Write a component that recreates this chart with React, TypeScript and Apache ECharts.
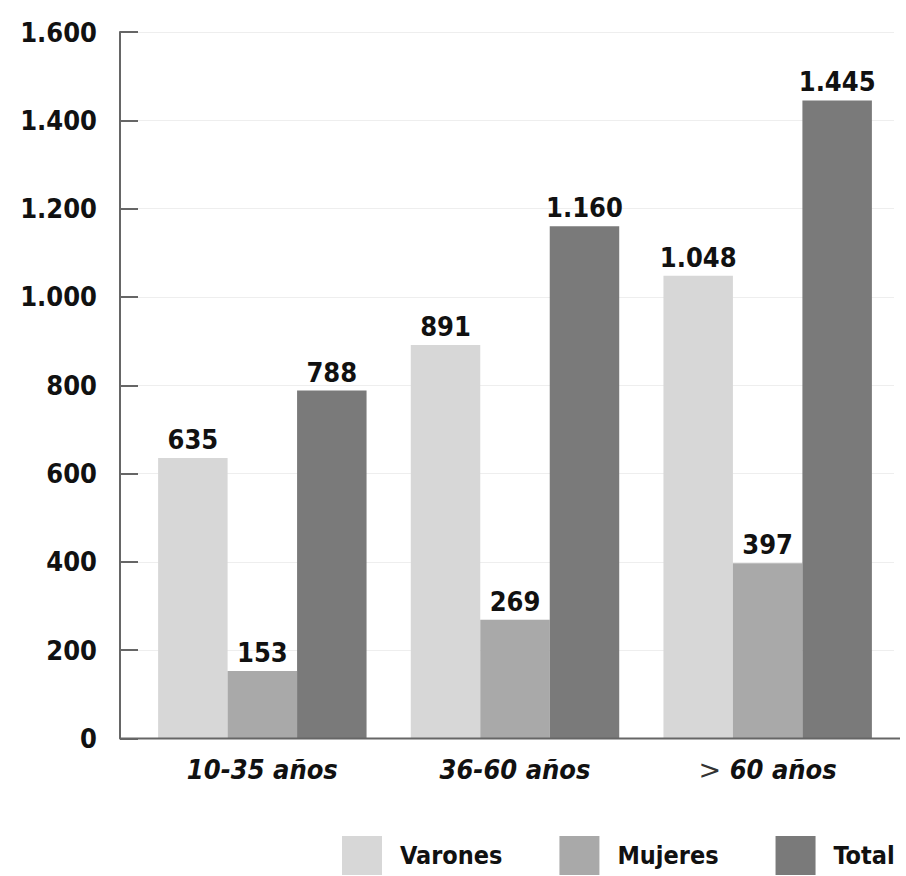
import React, { useEffect, useRef } from "react";
import * as echarts from "echarts";

const categories = ["10-35 años", "36-60 años", "> 60 años"];
const seriesNames = ["Varones", "Mujeres", "Total"];
const varones = [635, 891, 1048];
const mujeres = [153, 269, 397];
const total = [788, 1160, 1445];
const yTicks = [0, 200, 400, 600, 800, 1000, 1200, 1400, 1600];

const colors = ["#d7d7d7", "#a9a9a9", "#7a7a7a"];
const NUM_FONT = "'DejaVu Sans Condensed', 'DejaVu Sans', sans-serif";

const fmt = (v: number) => String(v).replace(/\B(?=(\d{3})+(?!\d))/g, ".");

export default function App() {
  const ref = useRef<HTMLDivElement>(null);
  useEffect(() => {
    if (!ref.current) return;
    const chart = echarts.init(ref.current, undefined, { renderer: "svg" });
    const values = [varones, mujeres, total];
    const labelStyle = {
      show: true,
      position: "top" as const,
      distance: 5,
      color: "#111",
      fontFamily: NUM_FONT,
      fontWeight: "bold" as const,
      fontSize: 27,
      formatter: (p: any) => fmt(p.value),
    };
    chart.setOption({
      animation: false,
      backgroundColor: "#fff",
      grid: { left: 136, right: 12, top: 32, bottom: 137.5, containLabel: false },
      legend: {
        left: 342,
        top: 836,
        width: 564,
        padding: 0,
        itemWidth: 40,
        itemHeight: 39,
        itemGap: 57,
        icon: "rect",
        data: seriesNames,
        textStyle: {
          fontFamily: NUM_FONT,
          fontWeight: "bold",
          fontSize: 25,
          color: "#111",
          padding: [0, 0, 0, 13],
        },
      },
      xAxis: {
        type: "category",
        data: categories,
        axisLine: { show: false },
        axisTick: { show: false },
        axisLabel: {
          interval: 0,
          margin: 17,
          color: "#111",
          fontFamily: NUM_FONT,
          fontWeight: "bold",
          fontStyle: "italic",
          fontSize: 27,
          formatter: (v: string) =>
            v.startsWith(">") ? "{g|>} {b|" + v.slice(1).trim() + "}" : "{b|" + v + "}",
          rich: {
            g: { fontFamily: "'DejaVu Sans', sans-serif", fontWeight: "normal", fontStyle: "normal", fontSize: 27, color: "#333" },
            b: { fontFamily: NUM_FONT, fontWeight: "bold", fontStyle: "italic", fontSize: 27, color: "#111" },
          },
        },
      },
      yAxis: {
        type: "value",
        min: yTicks[0],
        max: yTicks[yTicks.length - 1],
        interval: 200,
        offset: 16,
        axisLine: { show: true, lineStyle: { color: "#666", width: 2 } },
        axisTick: { show: true, inside: true, length: 18, lineStyle: { color: "#666", width: 2 } },
        splitLine: { show: true, lineStyle: { color: "#eeeeee", width: 1 } },
        axisLabel: {
          margin: 23,
          color: "#111",
          fontFamily: NUM_FONT,
          fontWeight: "bold",
          fontSize: 27,
          formatter: (v: number) => fmt(v),
        },
      },
      graphic: [
        {
          type: "line",
          shape: { x1: 120, y1: 738.5, x2: 900, y2: 738.5 },
          style: { stroke: "#666", lineWidth: 2 },
          z: 10,
        },
      ],
      series: seriesNames.map((name, i) => ({
        name,
        type: "bar",
        data: values[i],
        barGap: "0%",
        barCategoryGap: "17.5%",
        itemStyle: { color: colors[i] },
        label: labelStyle,
      })),
    });
    return () => chart.dispose();
  }, []);
  return <div ref={ref} style={{ width: 906, height: 876, position: "absolute", left: 0, top: 0 }} />;
}
